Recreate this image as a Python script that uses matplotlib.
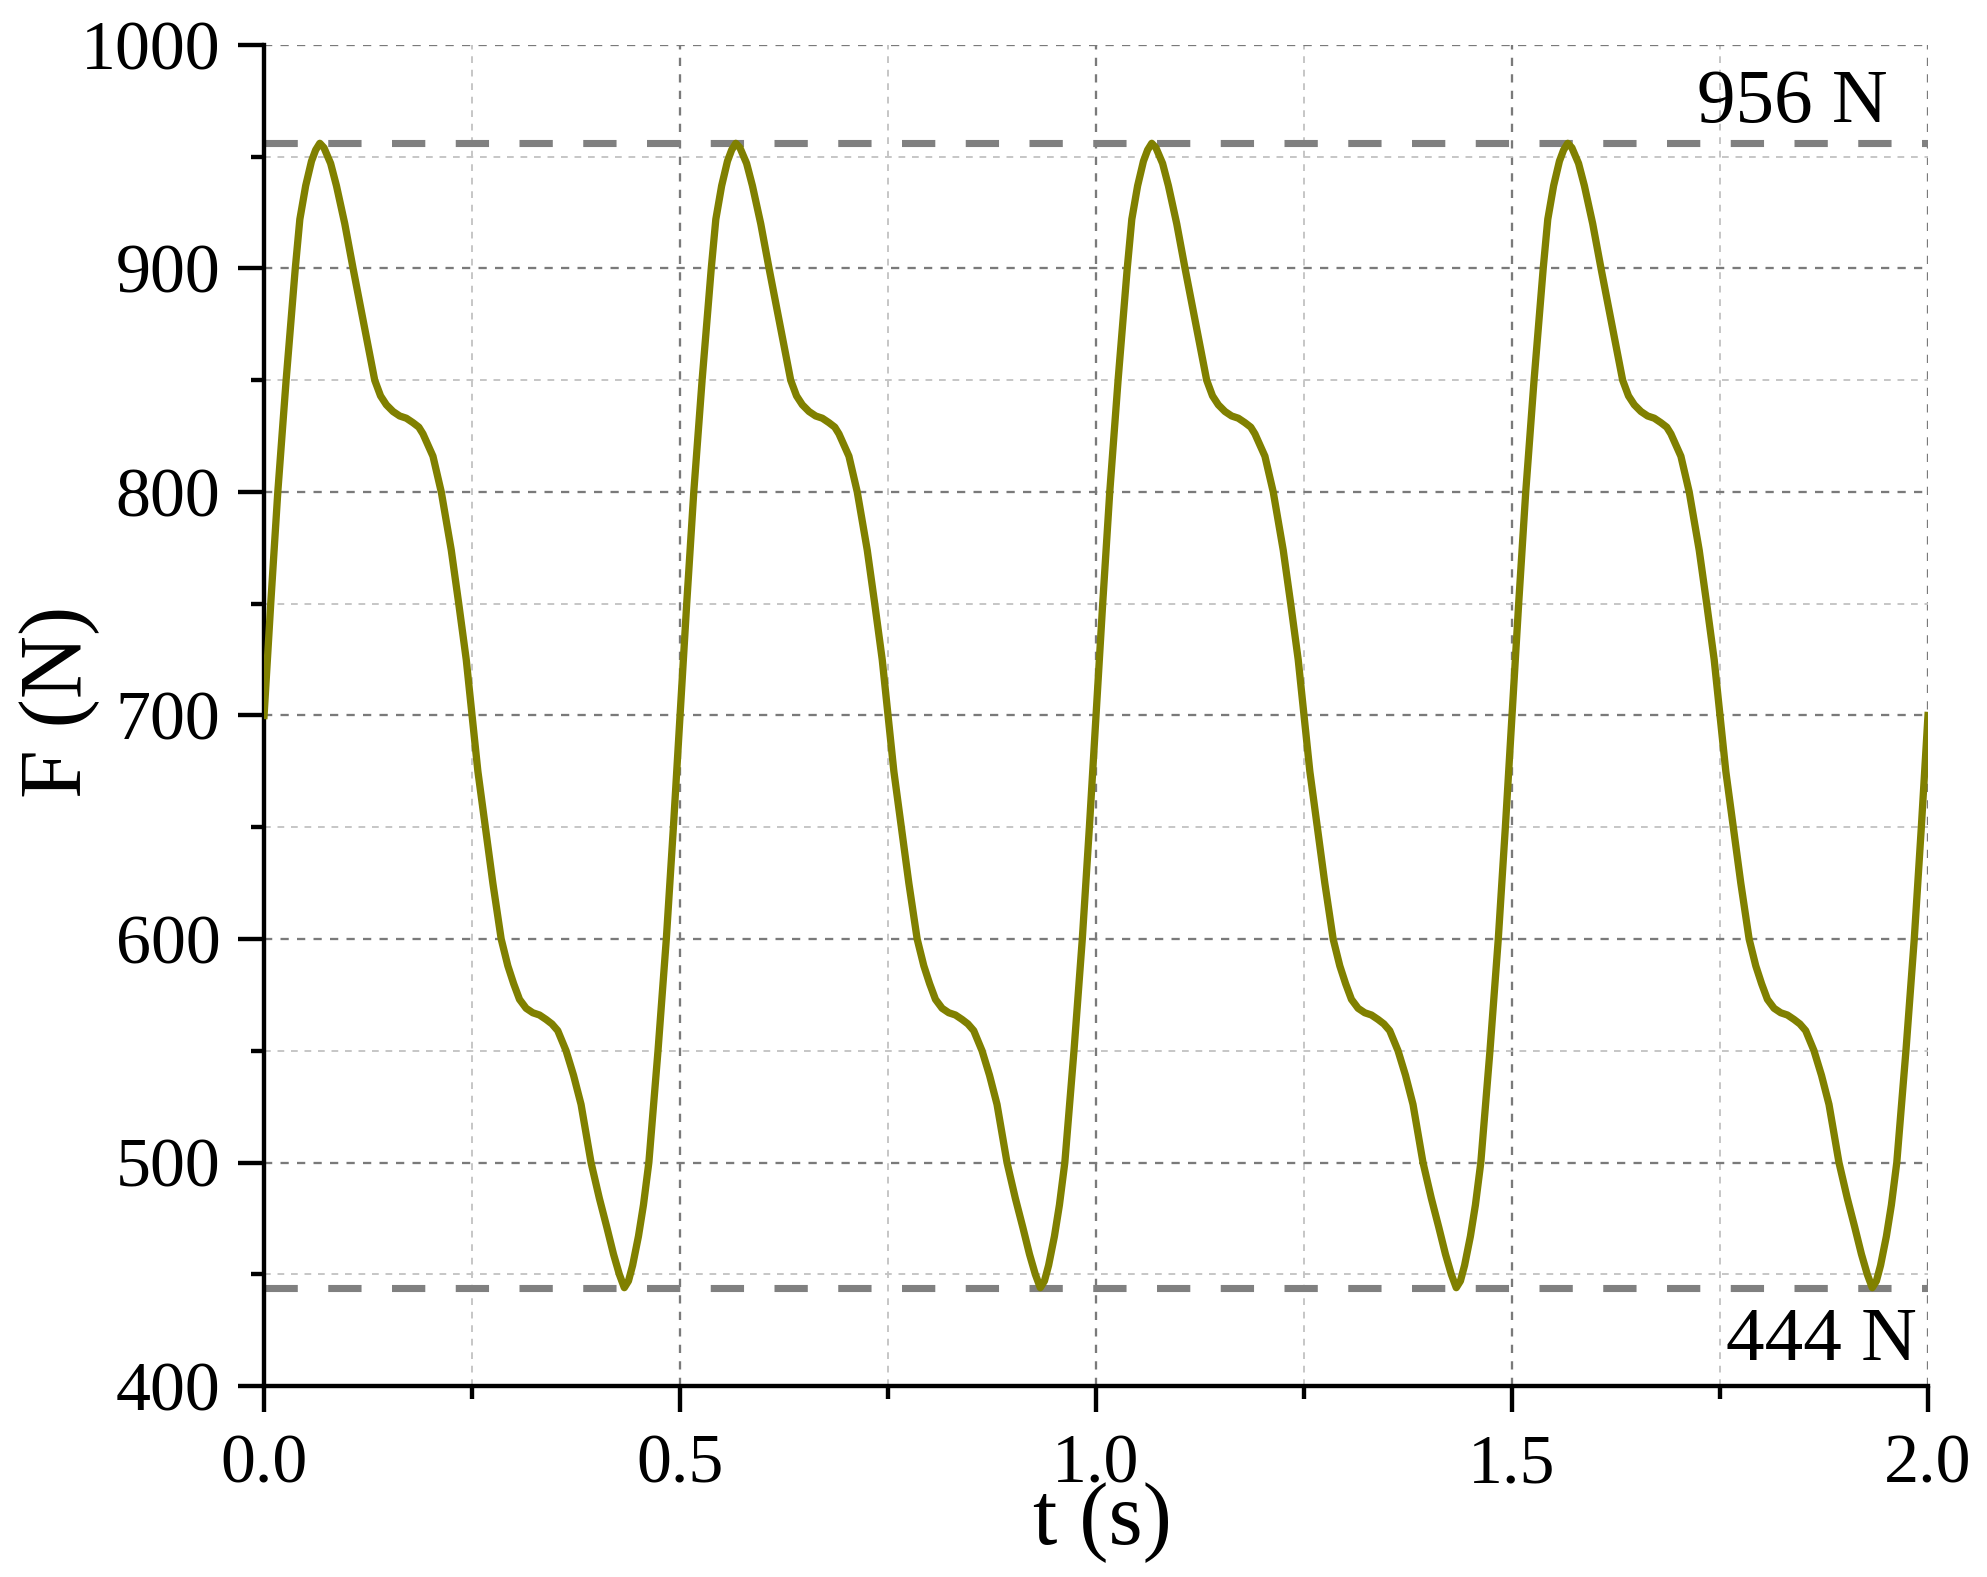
import matplotlib
matplotlib.use("Agg")
import matplotlib.pyplot as plt
import numpy as np
from matplotlib.ticker import MultipleLocator

plt.rcParams["font.family"] = ["Liberation Serif", "DejaVu Serif"]

# one period of the force signal, period = 0.5 s
t_cycle = [0.000, 0.008, 0.0165, 0.0265, 0.0375, 0.043, 0.050, 0.057, 0.062, 0.067,
           0.072, 0.080, 0.087, 0.097, 0.107, 0.119, 0.133, 0.140, 0.147, 0.155,
           0.163, 0.171, 0.179, 0.186, 0.191, 0.197, 0.203, 0.213, 0.225, 0.234,
           0.243, 0.250, 0.257, 0.266, 0.275, 0.285, 0.293, 0.300, 0.307, 0.315,
           0.323, 0.331, 0.339, 0.346, 0.353, 0.363, 0.372, 0.381, 0.393, 0.403,
           0.412, 0.420, 0.427, 0.433, 0.438, 0.443, 0.450, 0.456, 0.4625, 0.4735,
           0.4835, 0.492]
F_cycle = [700, 750, 800, 850, 900, 922, 937, 948, 953, 956,
           954, 947, 937, 920, 900, 877, 850, 843, 839, 836,
           834, 833, 831, 829, 826, 821, 816, 800, 774, 750,
           725, 700, 675, 650, 625, 600, 588, 580, 573, 569,
           567, 566, 564, 562, 559, 550, 539, 526, 500, 484,
           471, 459, 450, 444, 447, 454, 467, 481, 500, 550,
           600, 650]
n_cycles = 4
period = 0.5
t_end, F_end = 2.0, 700

F_max, F_min = 956, 444

t = np.concatenate([np.array(t_cycle) + k * period for k in range(n_cycles)] + [[t_end]])
F = np.concatenate([np.array(F_cycle)] * n_cycles + [[F_end]])

fig = plt.figure(figsize=(1987 / 300, 1577 / 300), dpi=300)
ax = fig.add_axes([0.1329, 0.1211, 0.8374, 0.8504])

# grid
ax.grid(which="major", color="#7a7a7a", linestyle=(0, (3.6, 3.6)), linewidth=0.55)
ax.grid(which="minor", color="#c4c4c4", linestyle=(0, (3.6, 3.6)), linewidth=0.45)
ax.set_axisbelow(True)

ax.axhline(F_max, color="#808080", linewidth=1.7, linestyle=(0, (4.7, 4.3)), zorder=2)
ax.axhline(F_min, color="#808080", linewidth=1.7, linestyle=(0, (4.7, 4.3)), zorder=2)

ax.plot(t, F, color="#808000", linewidth=1.75, zorder=3)

ax.text(1.952, 965.5, f"{F_max} N", ha="right", va="baseline", fontsize=18.5)
ax.text(1.987, 411.6, f"{F_min} N", ha="right", va="baseline", fontsize=18.5)

ax.set_xlim(0, 2.0)
ax.set_ylim(400, 1000)
ax.xaxis.set_major_locator(MultipleLocator(0.5))
ax.xaxis.set_minor_locator(MultipleLocator(0.25))
ax.yaxis.set_major_locator(MultipleLocator(100))
ax.yaxis.set_minor_locator(MultipleLocator(50))
ax.xaxis.set_major_formatter(lambda v, p: f"{v:.1f}")

for s in ["top", "right"]:
    ax.spines[s].set_visible(False)
for s in ["left", "bottom"]:
    ax.spines[s].set_linewidth(1.05)

ax.tick_params(which="major", direction="out", length=6.2, width=1.05, labelsize=16.8)
ax.tick_params(which="minor", direction="out", length=3.1, width=1.05)
ax.tick_params(axis="x", which="major", pad=5.3)
ax.tick_params(axis="y", which="major", pad=4.3)

ax.set_xlabel("t (s)", fontsize=21)
ax.set_ylabel("F (N)", fontsize=21)
ax.xaxis.set_label_coords(0.5036, -0.0716)
ax.yaxis.set_label_coords(-0.0986, 0.51)

fig.savefig("out.png", dpi=300)
